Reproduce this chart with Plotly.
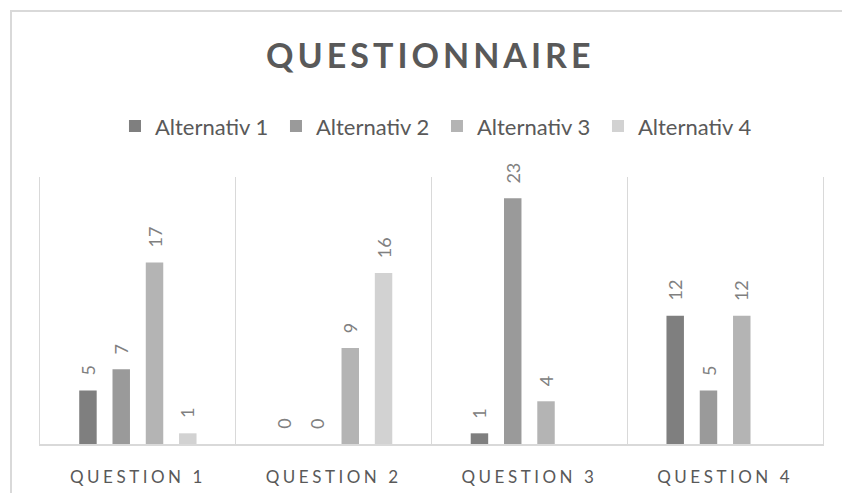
import plotly.graph_objects as go

# Survey answers per question and alternative (None = no answer recorded)
questions = ["QUESTION 1", "QUESTION 2", "QUESTION 3", "QUESTION 4"]
series_names = ["Alternativ 1", "Alternativ 2", "Alternativ 3", "Alternativ 4"]
alt1 = [5, 0, 1, 12]
alt2 = [7, 0, 23, 5]
alt3 = [17, 9, 4, 12]
alt4 = [1, 16, None, None]
series_values = [alt1, alt2, alt3, alt4]
colors = ["#7f7f7f", "#9a9a9a", "#b4b4b4", "#d2d2d2"]

W, H = 842, 493
MARGIN = dict(l=40, r=19, t=177, b=49)
BARGAP = 0.32
BARGROUPGAP = 0.475
TEXT = "#595959"
LABEL = "#808080"
LINE = "#d9d9d9"

fig = go.Figure()
for name, vals, col in zip(series_names, series_values, colors):
    fig.add_trace(go.Bar(
        name=name, x=questions, y=vals,
        marker=dict(color=col, line=dict(width=0)),
        hoverinfo="skip",
    ))

# value labels, rotated, sitting above each bar of the grouped layout
plot_w = W - MARGIN["l"] - MARGIN["r"]
plot_h = H - MARGIN["t"] - MARGIN["b"]
slot_px = plot_w / len(questions) * (1 - BARGAP) / len(series_names)
annotations = []
for i, vals in enumerate(series_values):
    for q, v in zip(questions, vals):
        if v is None:
            continue
        annotations.append(dict(
            x=q, y=v, xref="x", yref="y", text=str(v), showarrow=False,
            textangle=-90, xanchor="center", yanchor="bottom",
            xshift=(i - (len(series_names) - 1) / 2) * slot_px, yshift=13,
            font=dict(family="Lato", size=18, color=LABEL),
        ))

# light frame around the chart area (top and left edges visible)
x_left = (11 - MARGIN["l"]) / plot_w
x_right = (W + 10 - MARGIN["l"]) / plot_w
y_top = (H - MARGIN["b"] - 11) / plot_h
y_bottom = -(MARGIN["b"] + 10) / plot_h
fig.add_shape(type="path", xref="paper", yref="paper",
              path=f"M {x_left} {y_bottom} L {x_left} {y_top} L {x_right} {y_top}",
              line=dict(color=LINE, width=2), layer="below")

fig.update_layout(
    width=W, height=H, margin=MARGIN,
    paper_bgcolor="white", plot_bgcolor="white",
    font=dict(family="Lato", color=TEXT),
    barmode="group", bargap=BARGAP, bargroupgap=BARGROUPGAP,
    title=dict(text="QUESTIONNAIRE", font=dict(family="Lato", size=34, weight="bold", color=TEXT),
               xref="container", yref="container", x=0.511, y=1 - 56 / H,
               xanchor="center", yanchor="middle", automargin=False),
    legend=dict(orientation="h", x=0.507, xanchor="center", y=1.19, yanchor="middle",
                font=dict(family="Lato", size=22, color=TEXT), traceorder="normal",
                entrywidth=116, itemwidth=30),
    annotations=annotations,
    xaxis=dict(showgrid=True, gridcolor=LINE, gridwidth=1.3, tickson="boundaries",
               showline=True, linecolor=LINE, linewidth=1.5, ticks="",
               tickfont=dict(family="Lato", size=17, color=TEXT),
               ticklabelstandoff=17, range=[-0.5, 3.5], automargin=False),
    yaxis=dict(range=[0, 25], showgrid=False, showticklabels=False, zeroline=False,
               showline=True, mirror=True, linecolor=LINE, linewidth=1.3, ticks="",
               automargin=False),
)

post = """
var gd = document.getElementById('{plot_id}');
gd.querySelectorAll('.gtitle').forEach(function(t){ t.style.letterSpacing = '4px'; });
gd.querySelectorAll('.xtick text').forEach(function(t){ t.style.letterSpacing = '3.5px'; });
"""
fig.write_html("out.html", post_script=post)
